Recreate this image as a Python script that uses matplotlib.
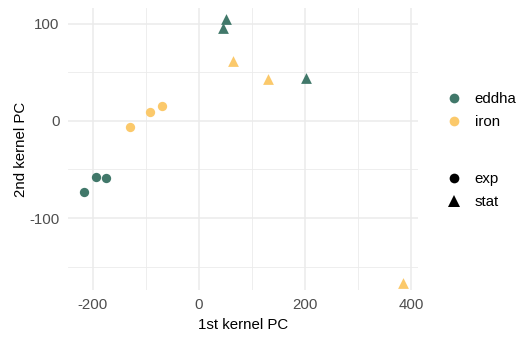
import matplotlib.pyplot as plt
from matplotlib.lines import Line2D

plt.rcParams['font.family'] = ['Liberation Sans', 'DejaVu Sans']
plt.rcParams['axes.unicode_minus'] = False

# kernel PCA scores
eddha_exp_x = [-217, -195, -175]
eddha_exp_y = [-73, -58, -59]
iron_exp_x = [-131, -92, -69]
iron_exp_y = [-6.5, 8.6, 15]
eddha_stat_x = [50, 46, 202]
eddha_stat_y = [105, 95, 44]
iron_stat_x = [65, 131, 384]
iron_stat_y = [62, 43, -167]

GREEN = '#41786a'
YELLOW = '#fbc96b'
GRID = '#ebebeb'
TICK = '#4d4d4d'

fig = plt.figure(figsize=(5.19, 3.37), dpi=100)
ax = fig.add_axes([68 / 519, 1 - 290 / 337, 350 / 519, 282 / 337])

ax.scatter(eddha_exp_x, eddha_exp_y, s=45, marker='o', color=GREEN, lw=0, zorder=3)
ax.scatter(iron_exp_x, iron_exp_y, s=45, marker='o', color=YELLOW, lw=0, zorder=3)
ax.scatter(eddha_stat_x, eddha_stat_y, s=60, marker='^', color=GREEN, lw=0, zorder=3)
ax.scatter(iron_stat_x, iron_stat_y, s=60, marker='^', color=YELLOW, lw=0, zorder=3)

ax.set_xlim(-247, 413)
ax.set_ylim(-174, 116)
ax.set_xticks([-200, 0, 200, 400])
ax.set_yticks([-100, 0, 100])
ax.set_xticks([-100, 100, 300], minor=True)
ax.set_yticks([-150, -50, 50], minor=True)
ax.grid(True, which='major', color=GRID, lw=1.1)
ax.grid(True, which='minor', color=GRID, lw=0.6)
ax.set_axisbelow(True)
for s in ax.spines.values():
    s.set_visible(False)
ax.tick_params(which='both', length=0, labelsize=10.8, labelcolor=TICK, pad=6)

ax.set_xlabel('1st kernel PC', fontsize=10.8, labelpad=4)
ax.set_ylabel('2nd kernel PC', fontsize=10.8, labelpad=1)

h1 = [Line2D([], [], ls='', marker='o', ms=7, color=GREEN, mew=0),
      Line2D([], [], ls='', marker='o', ms=7, color=YELLOW, mew=0)]
leg1 = ax.legend(h1, ['eddha', 'iron'], loc='center left', bbox_to_anchor=(440 / 519, 1 - 111 / 337),
                 bbox_transform=fig.transFigure, frameon=False, fontsize=10.8,
                 handlelength=1.0, handletextpad=0.9, labelspacing=0.6, borderaxespad=0)
ax.add_artist(leg1)
h2 = [Line2D([], [], ls='', marker='o', ms=7, color='black', mew=0),
      Line2D([], [], ls='', marker='^', ms=8, color='black', mew=0)]
ax.legend(h2, ['exp', 'stat'], loc='center left', bbox_to_anchor=(440 / 519, 1 - 191 / 337),
          bbox_transform=fig.transFigure, frameon=False, fontsize=10.8,
          handlelength=1.0, handletextpad=0.9, labelspacing=0.6, borderaxespad=0)

fig.savefig('out.png', dpi=100)
